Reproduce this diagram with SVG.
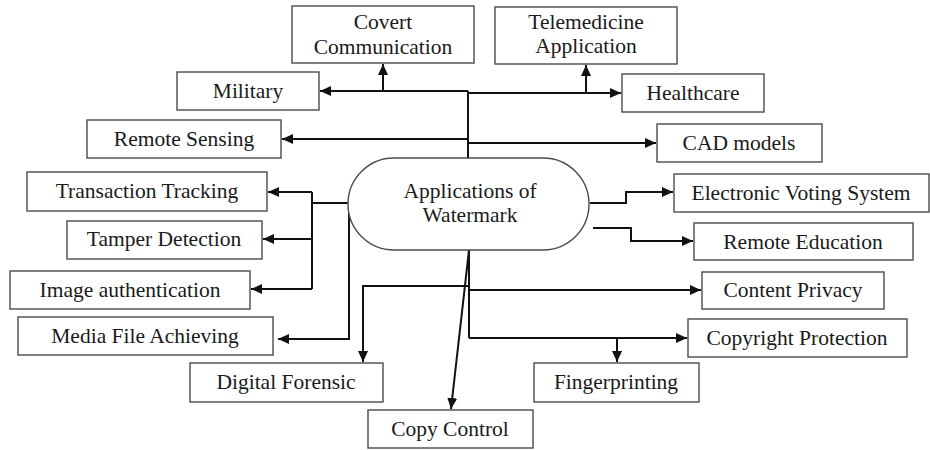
<svg xmlns="http://www.w3.org/2000/svg" width="930" height="450" viewBox="0 0 930 450">
  <style>
    .box { fill: #ffffff; stroke: #4a4a4a; stroke-width: 1.4; }
    .hub { fill: #ffffff; stroke: #4a4a4a; stroke-width: 1.4; }
    .lbl { font-family: "Liberation Serif", "Times New Roman", serif; font-size: 21.5px; fill: #1a1a1a; text-anchor: middle; }
    .wire { fill: none; stroke: #111111; stroke-width: 2; }
    .tip { marker-end: url(#arrow); }
  </style>
  <defs>
    <marker id="arrow" markerUnits="userSpaceOnUse" markerWidth="12" markerHeight="10" refX="11" refY="5" orient="auto">
      <path d="M0,0 L11,5 L0,10 z" fill="#111111"/>
    </marker>
  </defs>
  <rect width="930" height="450" fill="#ffffff"/>

  <!-- connectors -->
  <g id="connectors">
    <!-- upper trunk -->
    <path class="wire" d="M468,158 V91"/>
    <path class="wire tip" d="M468,91 H320"/>
    <path class="wire tip" d="M468,93 H621"/>
    <path class="wire tip" d="M383,91 V64"/>
    <path class="wire tip" d="M586,93 V65"/>
    <path class="wire tip" d="M468,139 H282"/>
    <path class="wire tip" d="M468,143 H656"/>
    <!-- left branch -->
    <path class="wire" d="M348,203 H312 M312,192 V289"/>
    <path class="wire tip" d="M312,192 H268"/>
    <path class="wire tip" d="M312,239 H263"/>
    <path class="wire tip" d="M312,289 H251"/>
    <path class="wire tip" d="M349,203 V339 H278"/>
    <!-- right side -->
    <path class="wire tip" d="M590,203 H626 V192 H673"/>
    <path class="wire tip" d="M593,228 H631 V241 H693"/>
    <!-- lower trunk -->
    <path class="wire" d="M469,250 V338"/>
    <path class="wire tip" d="M469,290 H701"/>
    <path class="wire tip" d="M469,338 H687"/>
    <path class="wire tip" d="M617,338 V362"/>
    <path class="wire tip" d="M469,286 H363 V362"/>
    <path class="wire tip" d="M469,250 L451,409"/>
  </g>

  <!-- central node -->
  <g id="hub">
    <rect class="hub" x="348" y="158" width="241" height="92" rx="46" ry="46"/>
    <text class="lbl" x="470" y="198">Applications of</text>
    <text class="lbl" x="470" y="222">Watermark</text>
  </g>

  <!-- application nodes -->
  <g id="covert">
    <rect class="box" x="292" y="6" width="182" height="57"/>
    <text class="lbl" x="383" y="29">Covert</text>
    <text class="lbl" x="383" y="54">Communication</text>
  </g>
  <g id="telemedicine">
    <rect class="box" x="495" y="7" width="182" height="57"/>
    <text class="lbl" x="586" y="29">Telemedicine</text>
    <text class="lbl" x="586" y="53">Application</text>
  </g>
  <g id="military">
    <rect class="box" x="177" y="72" width="142" height="38"/>
    <text class="lbl" x="248" y="98">Military</text>
  </g>
  <g id="healthcare">
    <rect class="box" x="622" y="74" width="142" height="38"/>
    <text class="lbl" x="693" y="100">Healthcare</text>
  </g>
  <g id="remote-sensing">
    <rect class="box" x="87" y="120" width="194" height="38"/>
    <text class="lbl" x="184" y="146">Remote Sensing</text>
  </g>
  <g id="cad-models">
    <rect class="box" x="657" y="124" width="165" height="38"/>
    <text class="lbl" x="739" y="150">CAD models</text>
  </g>
  <g id="transaction-tracking">
    <rect class="box" x="27" y="172" width="240" height="39"/>
    <text class="lbl" x="147" y="198">Transaction Tracking</text>
  </g>
  <g id="tamper-detection">
    <rect class="box" x="67" y="221" width="195" height="38"/>
    <text class="lbl" x="164" y="246">Tamper Detection</text>
  </g>
  <g id="image-authentication">
    <rect class="box" x="10" y="271" width="240" height="38"/>
    <text class="lbl" x="130" y="297">Image authentication</text>
  </g>
  <g id="media-file">
    <rect class="box" x="18" y="317" width="255" height="38"/>
    <text class="lbl" x="145" y="343">Media File Achieving</text>
  </g>
  <g id="electronic-voting">
    <rect class="box" x="674" y="174" width="255" height="38"/>
    <text class="lbl" x="801" y="200">Electronic Voting System</text>
  </g>
  <g id="remote-education">
    <rect class="box" x="694" y="223" width="219" height="37"/>
    <text class="lbl" x="803" y="249">Remote Education</text>
  </g>
  <g id="content-privacy">
    <rect class="box" x="702" y="272" width="182" height="37"/>
    <text class="lbl" x="793" y="297">Content Privacy</text>
  </g>
  <g id="copyright-protection">
    <rect class="box" x="688" y="319" width="219" height="38"/>
    <text class="lbl" x="797" y="345">Copyright Protection</text>
  </g>
  <g id="digital-forensic">
    <rect class="box" x="190" y="363" width="193" height="39"/>
    <text class="lbl" x="286" y="389">Digital Forensic</text>
  </g>
  <g id="fingerprinting">
    <rect class="box" x="534" y="363" width="165" height="39"/>
    <text class="lbl" x="616" y="389">Fingerprinting</text>
  </g>
  <g id="copy-control">
    <rect class="box" x="368" y="410" width="165" height="38"/>
    <text class="lbl" x="450" y="436">Copy Control</text>
  </g>
</svg>
